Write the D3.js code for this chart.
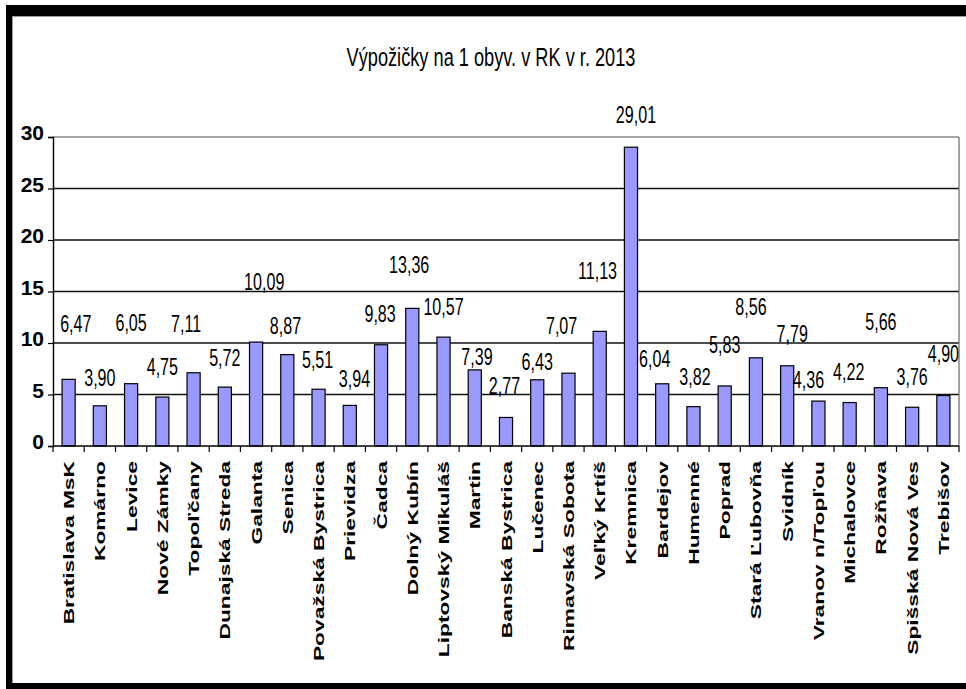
<!DOCTYPE html>
<html>
<head>
<meta charset="utf-8">
<script src="https://cdn.jsdelivr.net/npm/d3@7"></script>
<style>
  html, body { margin: 0; padding: 0; background: #fff; }
  svg { display: block; }
  text { font-family: "Liberation Sans", Arial, "DejaVu Sans", sans-serif; }
</style>
</head>
<body>
<svg id="chart" width="966" height="689"></svg>
<script>
// ---- data ----
const title = "Výpožičky na 1 obyv. v RK v r. 2013";
const categories = [
  "Bratislava MsK", "Komárno", "Levice", "Nové Zámky", "Topoľčany",
  "Dunajská Streda", "Galanta", "Senica", "Považská Bystrica", "Prievidza",
  "Čadca", "Dolný Kubín", "Liptovský Mikuláš", "Martin", "Banská Bystrica",
  "Lučenec", "Rimavská Sobota", "Veľký Krtíš", "Kremnica", "Bardejov",
  "Humenné", "Poprad", "Stará Ľubovňa", "Svidník", "Vranov n/Topľou",
  "Michalovce", "Rožňava", "Spišská Nová Ves", "Trebišov"
];
const values = [
  6.47, 3.90, 6.05, 4.75, 7.11, 5.72, 10.09, 8.87, 5.51, 3.94,
  9.83, 13.36, 10.57, 7.39, 2.77, 6.43, 7.07, 11.13, 29.01, 6.04,
  3.82, 5.83, 8.56, 7.79, 4.36, 4.22, 5.66, 3.76, 4.90
];
const yTicks = [0, 5, 10, 15, 20, 25, 30];

// label placement as in the original (value-axis level of each label baseline,
// and horizontal shift as a fraction of the category band)
const labelLevel = [
  11.1, 5.83, 11.17, 6.89, 11.1, 7.77, 15.1, 10.87, 7.57, 5.76,
  12.04, 16.8, 12.72, 7.86, 5.05, 7.38, 10.87, 16.26, 31.36, 7.67,
  5.97, 9.03, 12.72, 10.13, 5.63, 6.36, 11.26, 5.92, 8.18
];
const labelShift = [
  0.23, 0, 0, 0, -0.24, 0, 0.26, -0.06, -0.03, 0.15,
  -0.03, -0.1, 0, 0.07, -0.05, 0, -0.22, -0.07, 0.16, -0.24,
  0.05, 0, -0.16, 0.16, -0.32, -0.03, 0, 0, 0
];

// ---- layout ----
const svg = d3.select("#chart");
const W = 966, H = 689;
const plot = { left: 53, right: 959, top: 137, bottom: 446 };

const x = d3.scaleBand().domain(categories).range([plot.left, plot.right])
  .paddingInner(0.58).paddingOuter(0.29);
const y = d3.scaleLinear().domain([0, 30]).range([plot.bottom, plot.top]);
const bandStep = x.step();

// background
svg.append("rect").attr("x", 0).attr("y", 0).attr("width", W).attr("height", H).attr("fill", "#fff");

// frame (black border)
svg.append("rect").attr("x", 6).attr("y", 5).attr("width", W - 6).attr("height", 11).attr("fill", "#000");
svg.append("rect").attr("x", 6).attr("y", 5).attr("width", 6).attr("height", H - 5).attr("fill", "#000");
svg.append("rect").attr("x", 6).attr("y", 683).attr("width", W - 6).attr("height", 6).attr("fill", "#000");
svg.append("line").attr("x1", 12.5).attr("x2", 12.5).attr("y1", 16).attr("y2", 683).attr("stroke", "#999").attr("stroke-width", 1);
svg.append("line").attr("x1", 12).attr("x2", W).attr("y1", 16.5).attr("y2", 16.5).attr("stroke", "#999").attr("stroke-width", 1);

// title
svg.append("text")
  .attr("transform", `translate(491,66) scale(0.7,1)`)
  .attr("text-anchor", "middle")
  .attr("font-size", 26)
  .attr("fill", "#000")
  .text(title);

// gridlines
svg.append("g").selectAll("line").data(yTicks.filter(d => d > 0)).join("line")
  .attr("x1", plot.left).attr("x2", plot.right)
  .attr("y1", d => y(d)).attr("y2", d => y(d))
  .attr("stroke", d => d === 30 ? "#888" : "#111")
  .attr("stroke-width", 1.4);

// right border of plot
svg.append("line")
  .attr("x1", plot.right).attr("x2", plot.right)
  .attr("y1", plot.top).attr("y2", plot.bottom)
  .attr("stroke", "#666").attr("stroke-width", 1.2);

// bars
svg.append("g").selectAll("rect").data(values).join("rect")
  .attr("x", (d, i) => x(categories[i]))
  .attr("y", d => y(d))
  .attr("width", x.bandwidth())
  .attr("height", d => y(0) - y(d))
  .attr("fill", "#9999FF")
  .attr("stroke", "#000")
  .attr("stroke-width", 1.2);

// y axis
const yAxis = d3.axisLeft(y).tickValues(yTicks).tickSize(5).tickPadding(4).tickFormat(d3.format("d"));
const gy = svg.append("g").attr("transform", `translate(${plot.left},0)`).call(yAxis);
gy.select(".domain").attr("stroke", "#000").attr("stroke-width", 1.4);
gy.selectAll(".tick line").attr("stroke", "#000").attr("stroke-width", 1.2);
gy.selectAll(".tick text")
  .attr("font-size", 21).attr("font-weight", "bold")
  .attr("font-family", "\"Liberation Sans\", Arial, sans-serif")
  .attr("fill", "#000").attr("dy", "0.12em");

// x axis: line + boundary ticks
svg.append("line")
  .attr("x1", plot.left).attr("x2", plot.right)
  .attr("y1", plot.bottom).attr("y2", plot.bottom)
  .attr("stroke", "#000").attr("stroke-width", 1.4);
const boundaries = d3.range(categories.length + 1);
svg.append("g").selectAll("line").data(boundaries).join("line")
  .attr("x1", i => plot.left + i * bandStep).attr("x2", i => plot.left + i * bandStep)
  .attr("y1", plot.bottom).attr("y2", plot.bottom + 6)
  .attr("stroke", "#000").attr("stroke-width", 1.2);

// x category labels (rotated)
svg.append("g").selectAll("text").data(categories).join("text")
  .attr("transform", d => `translate(${x(d) + x.bandwidth() / 2 + 5.5},461) rotate(-90) scale(1.52,1)`)
  .attr("text-anchor", "end")
  .attr("font-size", 15)
  .attr("font-weight", "bold")
  .attr("fill", "#000")
  .text(d => d);

// value labels
const fmt = v => d3.format(".2f")(v).replace(".", ",");
svg.append("g").selectAll("text").data(values).join("text")
  .attr("transform", (d, i) => {
    const cx = x(categories[i]) + x.bandwidth() / 2 + labelShift[i] * bandStep;
    return `translate(${cx},${y(labelLevel[i])}) scale(0.7,1)`;
  })
  .attr("text-anchor", "middle")
  .attr("font-size", 23)
  .attr("fill", "#000")
  .text(d => fmt(d));
</script>
</body>
</html>
